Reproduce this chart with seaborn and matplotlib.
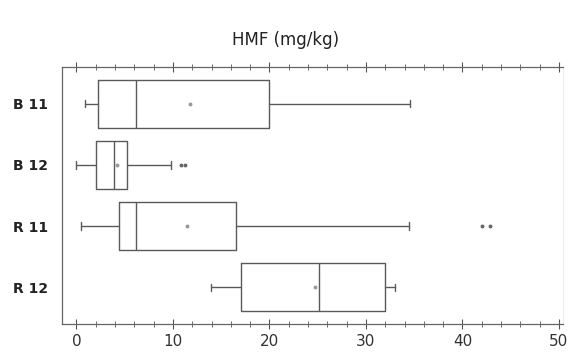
import matplotlib
matplotlib.use("Agg")
import matplotlib.pyplot as plt
import seaborn as sns
from matplotlib.ticker import MultipleLocator

# Box statistics (HMF, mg/kg)
groups = ["B 11", "B 12", "R 11", "R 12"]
whisker_low = [0.9, 0.0, 0.5, 13.9]
q1 = [2.2, 2.0, 4.4, 17.0]
median = [6.2, 3.9, 6.2, 25.1]
q3 = [20.0, 5.2, 16.5, 32.0]
whisker_high = [34.6, 9.8, 34.5, 33.0]
means = [11.8, 4.2, 11.5, 24.7]
outliers = [[], [10.8, 11.2], [42.0, 42.8], []]

sns.set_theme(style="white")
plt.rcParams["font.family"] = ["DejaVu Sans"]

stats = []
for i, g in enumerate(groups):
    stats.append({
        "label": g,
        "whislo": whisker_low[i],
        "q1": q1[i],
        "med": median[i],
        "q3": q3[i],
        "whishi": whisker_high[i],
        "mean": means[i],
        "fliers": outliers[i],
    })

fig = plt.figure(figsize=(5.72, 3.61), dpi=100)
ax = fig.add_axes([0.1084, 0.1025, 0.8756, 0.712])

line_col = "#5a5a5a"
ax.bxp(stats, positions=range(len(groups)), vert=False, widths=0.79,
       capwidths=0.12, showmeans=True, patch_artist=False,
       boxprops=dict(color=line_col, linewidth=1.0),
       medianprops=dict(color=line_col, linewidth=1.0),
       whiskerprops=dict(color=line_col, linewidth=1.0),
       capprops=dict(color=line_col, linewidth=1.0),
       meanprops=dict(marker="o", markersize=1.8, markerfacecolor="#999999",
                      markeredgecolor="#999999"),
       flierprops=dict(marker="o", markersize=1.8, markerfacecolor="#666666",
                       markeredgecolor="#666666"))

ax.set_ylim(3.6, -0.6)
ax.set_xlim(-1.5, 50.4)
ax.set_yticks(range(len(groups)))
ax.set_yticklabels(groups)
ax.xaxis.set_major_locator(MultipleLocator(10))
ax.xaxis.set_minor_locator(MultipleLocator(2))
ax.tick_params(axis="x", which="major", direction="inout", length=7, width=0.8,
               color="#555555", top=True, bottom=True, labelsize=11, pad=4,
               labelcolor="#333333")
ax.tick_params(axis="x", which="minor", direction="inout", length=4, width=0.6,
               color="#555555", top=True, bottom=True)
ax.tick_params(axis="y", length=0, labelsize=10, pad=10, labelcolor="#222222")
for lab in ax.get_yticklabels():
    lab.set_fontweight("semibold")
for side in ["left", "top", "bottom"]:
    ax.spines[side].set_color("#666666")
    ax.spines[side].set_linewidth(0.9)
ax.spines["right"].set_color("#eeeeee")
ax.spines["right"].set_linewidth(0.8)

fig.suptitle("HMF (mg/kg)", x=0.5, y=0.915, fontsize=12, color="#222222")

fig.savefig("out.png", dpi=100)
